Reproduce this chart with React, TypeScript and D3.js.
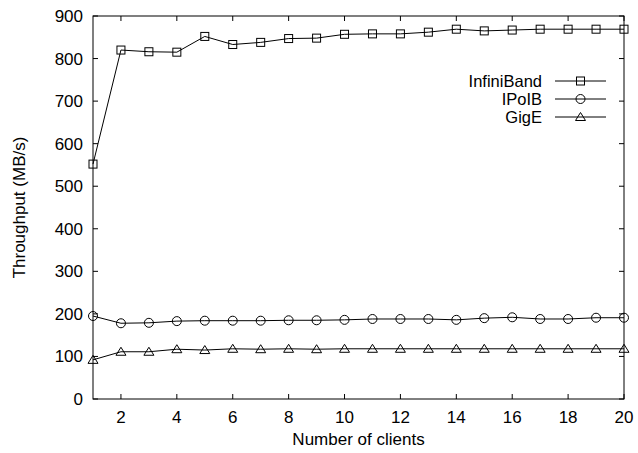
import React, { useEffect, useRef } from 'react';
import * as d3 from 'd3';

const clients = [1, 2, 3, 4, 5, 6, 7, 8, 9, 10, 11, 12, 13, 14, 15, 16, 17, 18, 19, 20];
const infiniband = [552, 820, 816, 815, 852, 833, 838, 847, 848, 857, 858, 858, 862, 869, 865, 867, 869, 869, 869, 869];
const ipoib = [195, 178, 179, 183, 184, 184, 184, 185, 185, 186, 188, 188, 188, 186, 190, 192, 188, 188, 191, 191];
const gige = [92, 111, 111, 117, 115, 118, 117, 118, 117, 118, 118, 118, 118, 118, 118, 118, 118, 118, 118, 118];
const xTicks = [2, 4, 6, 8, 10, 12, 14, 16, 18, 20];
const yTicks = [0, 100, 200, 300, 400, 500, 600, 700, 800, 900];

const series = [
  { name: 'InfiniBand', values: infiniband, marker: 'square' },
  { name: 'IPoIB', values: ipoib, marker: 'circle' },
  { name: 'GigE', values: gige, marker: 'triangle' },
];

function App() {
  const svgRef = useRef<SVGSVGElement>(null);

  useEffect(() => {
    if (!svgRef.current) return;
    const width = 638;
    const height = 453;
    const margin = { top: 16, right: 14, bottom: 54, left: 93 };
    const font = 'Liberation Sans, Arial, sans-serif';
    const fs = 17;

    const svg = d3.select(svgRef.current)
      .attr('viewBox', `0 0 ${width} ${height}`)
      .attr('preserveAspectRatio', 'none');
    svg.selectAll('*').remove();

    const x = d3.scaleLinear().domain([1, 20]).range([margin.left, width - margin.right]);
    const y = d3.scaleLinear().domain([0, 900]).range([height - margin.bottom, margin.top]);

    const g = svg.append('g');

    // mirrored inward ticks on all sides
    const tl = 5;
    xTicks.forEach(t => {
      g.append('line').attr('x1', x(t)).attr('x2', x(t))
        .attr('y1', y(0)).attr('y2', y(0) - tl).attr('stroke', 'black');
      g.append('line').attr('x1', x(t)).attr('x2', x(t))
        .attr('y1', y(900)).attr('y2', y(900) + tl).attr('stroke', 'black');
      g.append('text').attr('x', x(t)).attr('y', y(0) + 24)
        .attr('text-anchor', 'middle').attr('font-family', font).attr('font-size', fs)
        .text(t);
    });
    yTicks.forEach(t => {
      g.append('line').attr('x1', x(1)).attr('x2', x(1) + tl)
        .attr('y1', y(t)).attr('y2', y(t)).attr('stroke', 'black');
      g.append('line').attr('x1', x(20)).attr('x2', x(20) - tl)
        .attr('y1', y(t)).attr('y2', y(t)).attr('stroke', 'black');
      g.append('text').attr('x', x(1) - 10).attr('y', y(t) + 6)
        .attr('text-anchor', 'end').attr('font-family', font).attr('font-size', fs)
        .text(t);
    });

    g.append('rect')
      .attr('x', x(1)).attr('y', y(900))
      .attr('width', x(20) - x(1)).attr('height', y(0) - y(900))
      .attr('fill', 'none').attr('stroke', 'black');

    g.append('text')
      .attr('x', (x(1) + x(20)) / 2).attr('y', height - 8)
      .attr('text-anchor', 'middle').attr('font-family', font).attr('font-size', fs)
      .text('Number of clients');
    g.append('text')
      .attr('transform', `translate(25, ${(y(0) + y(900)) / 2}) rotate(-90)`)
      .attr('text-anchor', 'middle').attr('font-family', font).attr('font-size', fs)
      .text('Throughput (MB/s)');

    const drawMarker = (sel: any, kind: string, cx: number, cy: number) => {
      if (kind === 'square') {
        sel.append('rect').attr('x', cx - 4).attr('y', cy - 4).attr('width', 8).attr('height', 8)
          .attr('fill', 'none').attr('stroke', 'black');
      } else if (kind === 'circle') {
        sel.append('circle').attr('cx', cx).attr('cy', cy).attr('r', 4.5)
          .attr('fill', 'none').attr('stroke', 'black');
      } else {
        sel.append('path')
          .attr('d', `M${cx - 5},${cy + 3.5} L${cx + 5},${cy + 3.5} L${cx},${cy - 4.5} Z`)
          .attr('fill', 'none').attr('stroke', 'black');
      }
    };

    const line = d3.line<number>().x((_, i) => x(clients[i])).y(d => y(d));

    series.forEach((s, si) => {
      g.append('path').datum(s.values).attr('d', line)
        .attr('fill', 'none').attr('stroke', 'black').attr('stroke-width', 1);
      s.values.forEach((v, i) => drawMarker(g, s.marker, x(clients[i]), y(v)));

      // legend
      const ly = 81 + si * 18;
      g.append('text').attr('x', 542).attr('y', ly + 6)
        .attr('text-anchor', 'end').attr('font-family', font).attr('font-size', 16.5)
        .text(s.name);
      g.append('line').attr('x1', 555).attr('x2', 606).attr('y1', ly).attr('y2', ly)
        .attr('stroke', 'black');
      drawMarker(g, s.marker, 580.5, ly);
    });
  }, []);

  return (
    <svg
      ref={svgRef}
      style={{ position: 'fixed', left: 0, top: 0, width: '100vw', height: '100vh', display: 'block', background: 'white' }}
    ></svg>
  );
}

export default App;
